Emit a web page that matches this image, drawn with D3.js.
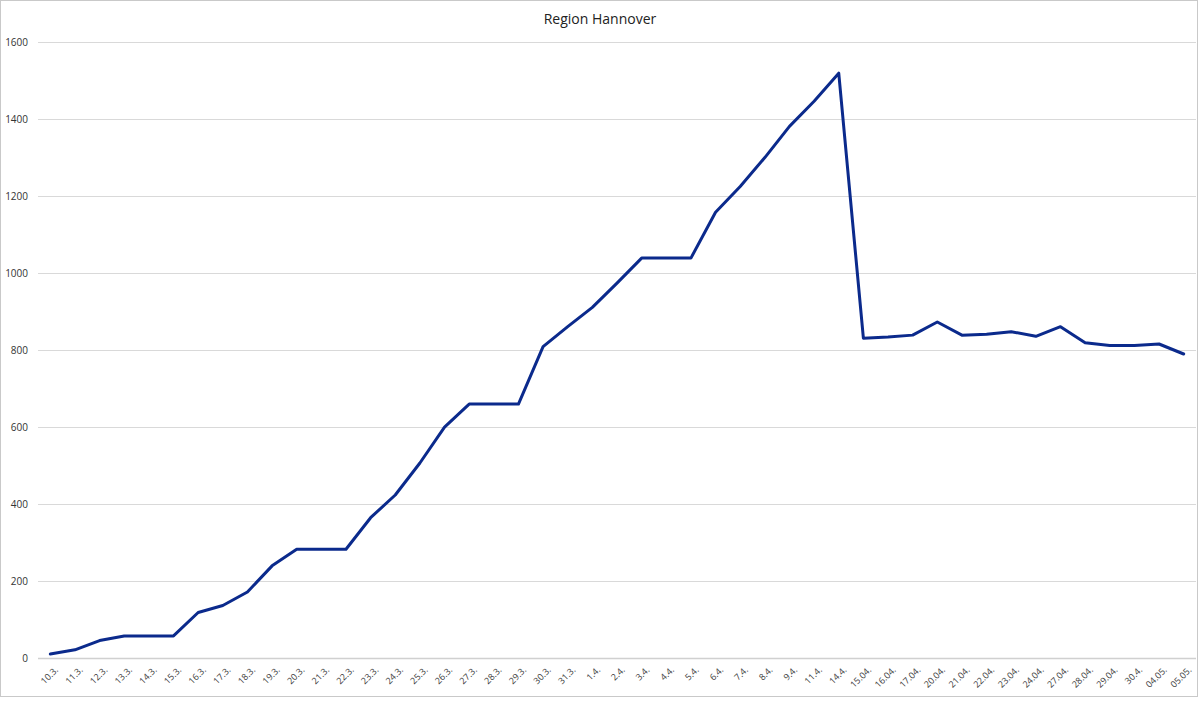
<!DOCTYPE html>
<html>
<head>
<meta charset="utf-8">
<script src="https://cdn.jsdelivr.net/npm/d3@7"></script>
<style>
  html, body { margin: 0; padding: 0; background: #fff; }
  svg { display: block; }
</style>
</head>
<body>
<svg id="chart" width="1200" height="701"></svg>
<script>
const title = "Region Hannover";
const categories = ["10.3.","11.3.","12.3.","13.3.","14.3.","15.3.","16.3.","17.3.","18.3.","19.3.","20.3.","21.3.","22.3.","23.3.","24.3.","25.3.","26.3.","27.3.","28.3.","29.3.","30.3.","31.3.","1.4.","2.4.","3.4.","4.4.","5.4.","6.4.","7.4.","8.4.","9.4.","11.4.","14.4.","15.04.","16.04.","17.04.","20.04.","21.04.","22.04.","23.04.","24.04.","27.04.","28.04.","29.04.","30.4.","04.05.","05.05."];
const values = [11,22,46,58,58,58,119,137,172,240,283,283,283,365,424,507,600,660,660,660,809,861,911,974,1039,1039,1039,1158,1225,1300,1381,1446,1519,831,834,839,873,839,841,848,836,861,819,812,812,816,790];
const yTicks = [0,200,400,600,800,1000,1200,1400,1600];

const svg = d3.select("#chart");

// outer border
svg.append("rect").attr("x", 0.5).attr("y", 0.5).attr("width", 1197).attr("height", 696)
  .attr("fill", "#fff").attr("stroke", "#c9c9c9").attr("stroke-width", 1);

const x = d3.scaleBand().domain(categories).range([38, 1196]).padding(0);
const y = d3.scaleLinear().domain([0, 1600]).range([658.3, 42]);

// gridlines
svg.append("g").selectAll("line").data(yTicks).join("line")
  .attr("x1", 38).attr("x2", 1196)
  .attr("y1", d => Math.round(y(d)) + 0.5).attr("y2", d => Math.round(y(d)) + 0.5)
  .attr("stroke", d => d === 0 ? "#d0d0d0" : "#d9d9d9").attr("stroke-width", d => d === 0 ? 1.5 : 1);

// y axis labels
const yAxis = d3.axisLeft(y).tickValues(yTicks).tickFormat(d3.format("d")).tickSize(0).tickPadding(0);
const gy = svg.append("g").attr("transform", "translate(28,0)").call(yAxis);
gy.select(".domain").remove();
gy.selectAll("text").attr("font-family", "'Open Sans', 'Liberation Sans', sans-serif")
  .attr("font-size", "10px").attr("fill", "#333");

// x axis labels
const xAxis = d3.axisBottom(x).tickSize(0).tickPadding(0);
const gx = svg.append("g").attr("transform", "translate(0,666)").call(xAxis);
gx.select(".domain").remove();
gx.selectAll("text")
  .attr("font-family", "'Open Sans', 'Liberation Sans', sans-serif")
  .attr("font-size", "9px").attr("fill", "#3a3a3a")
  .attr("text-anchor", "end")
  .attr("dy", "0.7em")
  .attr("transform", "translate(4,0) rotate(-45)");

// line
const line = d3.line().x((d, i) => x(categories[i]) + x.bandwidth() / 2).y(d => y(d));
svg.append("path").datum(values).attr("d", line)
  .attr("fill", "none").attr("stroke", "#0b2a8c").attr("stroke-width", 3)
  .attr("stroke-linejoin", "round").attr("stroke-linecap", "round");

// title
svg.append("text").attr("x", 600).attr("y", 24).attr("text-anchor", "middle")
  .attr("font-family", "'Open Sans', 'Liberation Sans', sans-serif").attr("font-size", "14px")
  .attr("fill", "#222").text(title);
</script>
</body>
</html>
